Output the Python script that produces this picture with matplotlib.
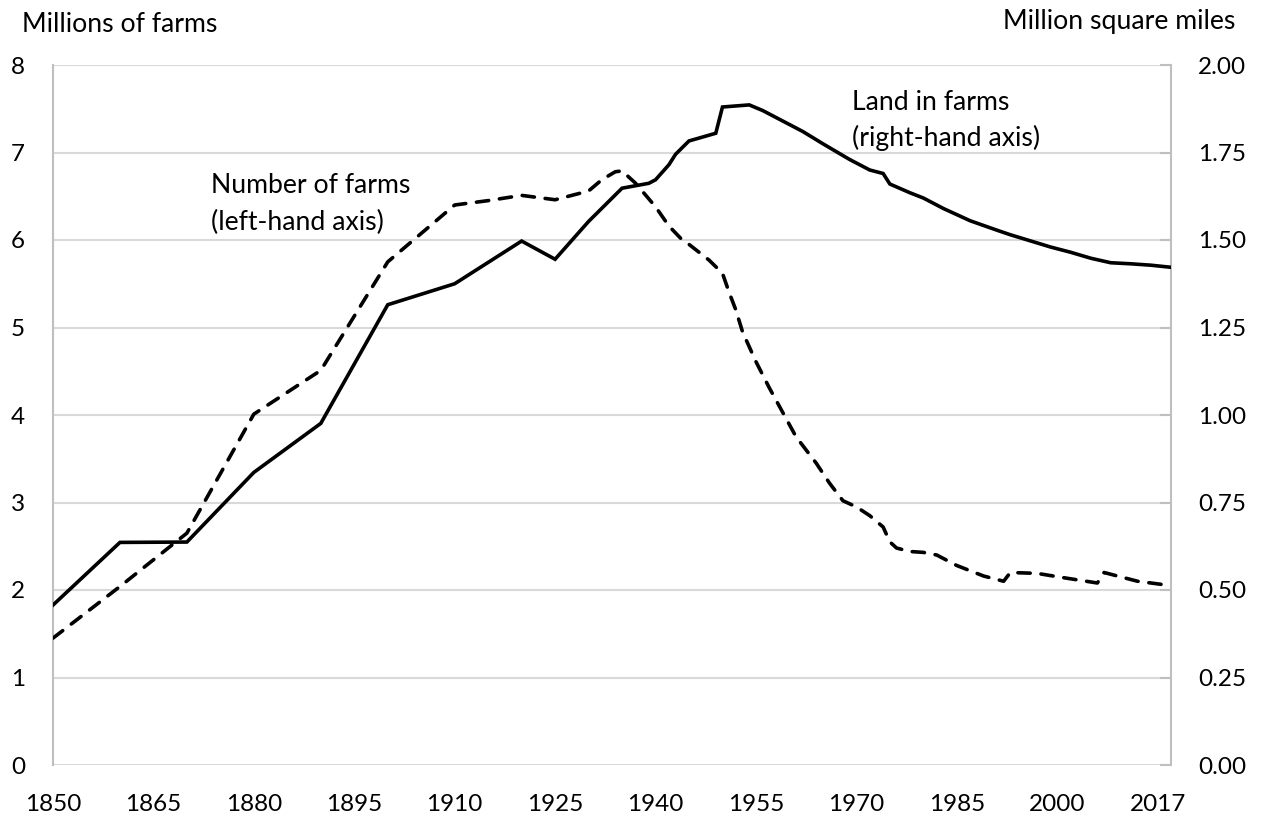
import matplotlib
matplotlib.use("Agg")
import matplotlib.pyplot as plt

plt.rcParams['font.family'] = ['Lato', 'DejaVu Sans']

# Number of farms (millions, left-hand axis)
farm_years = [1850, 1860, 1870, 1880, 1890, 1900, 1910, 1915, 1920, 1925, 1930, 1932,
              1934, 1935, 1937, 1940, 1942, 1944, 1945, 1948, 1950, 1951, 1952, 1953,
              1955, 1957, 1959, 1961, 1964, 1966, 1968, 1970, 1972, 1974, 1975, 1976,
              1978, 1980, 1982, 1985, 1989, 1992, 1993, 1997, 2001, 2006, 2007, 2012, 2017]
farm_counts = [1.45, 2.04, 2.65, 4.01, 4.51, 5.75, 6.40, 6.45, 6.51, 6.46, 6.56, 6.69,
               6.78, 6.79, 6.65, 6.38, 6.16, 6.00, 5.95, 5.77, 5.62, 5.40, 5.20, 4.95,
               4.61, 4.31, 4.03, 3.75, 3.45, 3.22, 3.02, 2.95, 2.85, 2.72, 2.55, 2.48,
               2.44, 2.43, 2.40, 2.28, 2.16, 2.10, 2.20, 2.19, 2.14, 2.08, 2.20, 2.10, 2.05]

# Land in farms (million square miles, right-hand axis)
land_years = [1850, 1860, 1870, 1880, 1890, 1900, 1910, 1920, 1925, 1930, 1935,
              1939, 1940, 1942, 1943, 1945, 1949, 1950, 1954, 1956, 1958, 1959, 1962,
              1965, 1969, 1972, 1974, 1975, 1978, 1980, 1983, 1987, 1991, 1993, 1999,
              2002, 2005, 2008, 2011, 2014, 2017]
land_area = [0.457, 0.636, 0.637, 0.836, 0.976, 1.315, 1.375, 1.497, 1.445, 1.553, 1.648,
             1.662, 1.672, 1.715, 1.745, 1.783, 1.805, 1.880, 1.886, 1.870, 1.850, 1.840, 1.810,
             1.775, 1.730, 1.700, 1.690, 1.660, 1.635, 1.620, 1.590, 1.555, 1.528, 1.515, 1.480,
             1.465, 1.448, 1.435, 1.432, 1.428, 1.422]

# category-style x labels (last label sits one 15-year step after 2000)
x_tick_pos = [1850, 1865, 1880, 1895, 1910, 1925, 1940, 1955, 1970, 1985, 2000, 2015]
x_tick_labels = ["1850", "1865", "1880", "1895", "1910", "1925", "1940", "1955",
                 "1970", "1985", "2000", "2017"]
left_ticks = [0, 1, 2, 3, 4, 5, 6, 7, 8]
right_ticks = [0.00, 0.25, 0.50, 0.75, 1.00, 1.25, 1.50, 1.75, 2.00]

W, H = 1265, 819
fig = plt.figure(figsize=(W / 100, H / 100), dpi=100)
ax = fig.add_axes([53 / W, (H - 765) / H, (1171 - 53) / W, 700 / H])
ax2 = ax.twinx()

FS_TICK = 17.5
FS_TXT = 19.2
grid_c = '#d9d9d9'
axis_c = '#bfbfbf'

ax.set_xlim(1850, 2017)
ax.set_ylim(0, 8)
ax2.set_ylim(0, 2)
ax.set_yticks(left_ticks)
ax.set_yticklabels([str(v) for v in left_ticks])
ax2.set_yticks(right_ticks)
ax2.set_yticklabels([f"{v:.2f}" for v in right_ticks])
ax.set_xticks(x_tick_pos)
ax.set_xticklabels(x_tick_labels)

ax.grid(axis='y', color=grid_c, linewidth=1.5, zorder=0)
ax.set_axisbelow(True)
for a in (ax, ax2):
    for s in a.spines.values():
        s.set_visible(False)
ax.spines['left'].set_visible(True)
ax.spines['left'].set_color(axis_c)
ax.spines['left'].set_linewidth(1.5)
ax2.spines['right'].set_visible(True)
ax2.spines['right'].set_color(axis_c)
ax2.spines['right'].set_linewidth(1.5)

ax.tick_params(axis='y', length=0, labelsize=FS_TICK, pad=20)
ax.tick_params(axis='x', length=0, labelsize=FS_TICK, pad=21)
ax2.tick_params(axis='y', direction='in', length=8, width=1.5, color=axis_c,
                labelsize=FS_TICK, pad=19.5)

ax.plot(farm_years, farm_counts, color='black', linewidth=2.6,
        linestyle=(0, (3.4, 3.0)), dash_capstyle='round', zorder=3)
ax2.plot(land_years, land_area, color='black', linewidth=2.6, solid_joinstyle='miter',
         zorder=3)

ax.text(1873.6, 6.537, "Number of farms", fontsize=FS_TXT, ha='left', va='baseline')
ax.text(1873.6, 6.114, "(left-hand axis)", fontsize=FS_TXT, ha='left', va='baseline')
ax2.text(1969.4, 1.871, "Land in farms", fontsize=FS_TXT, ha='left', va='baseline')
ax2.text(1969.4, 1.769, "(right-hand axis)", fontsize=FS_TXT, ha='left', va='baseline')

fig.text(22 / W, 1 - 32 / H, "Millions of farms", fontsize=FS_TXT, ha='left', va='baseline')
fig.text(1235 / W, 1 - 29 / H, "Million square miles", fontsize=FS_TXT, ha='right',
         va='baseline')

fig.savefig("out.png", dpi=100)
